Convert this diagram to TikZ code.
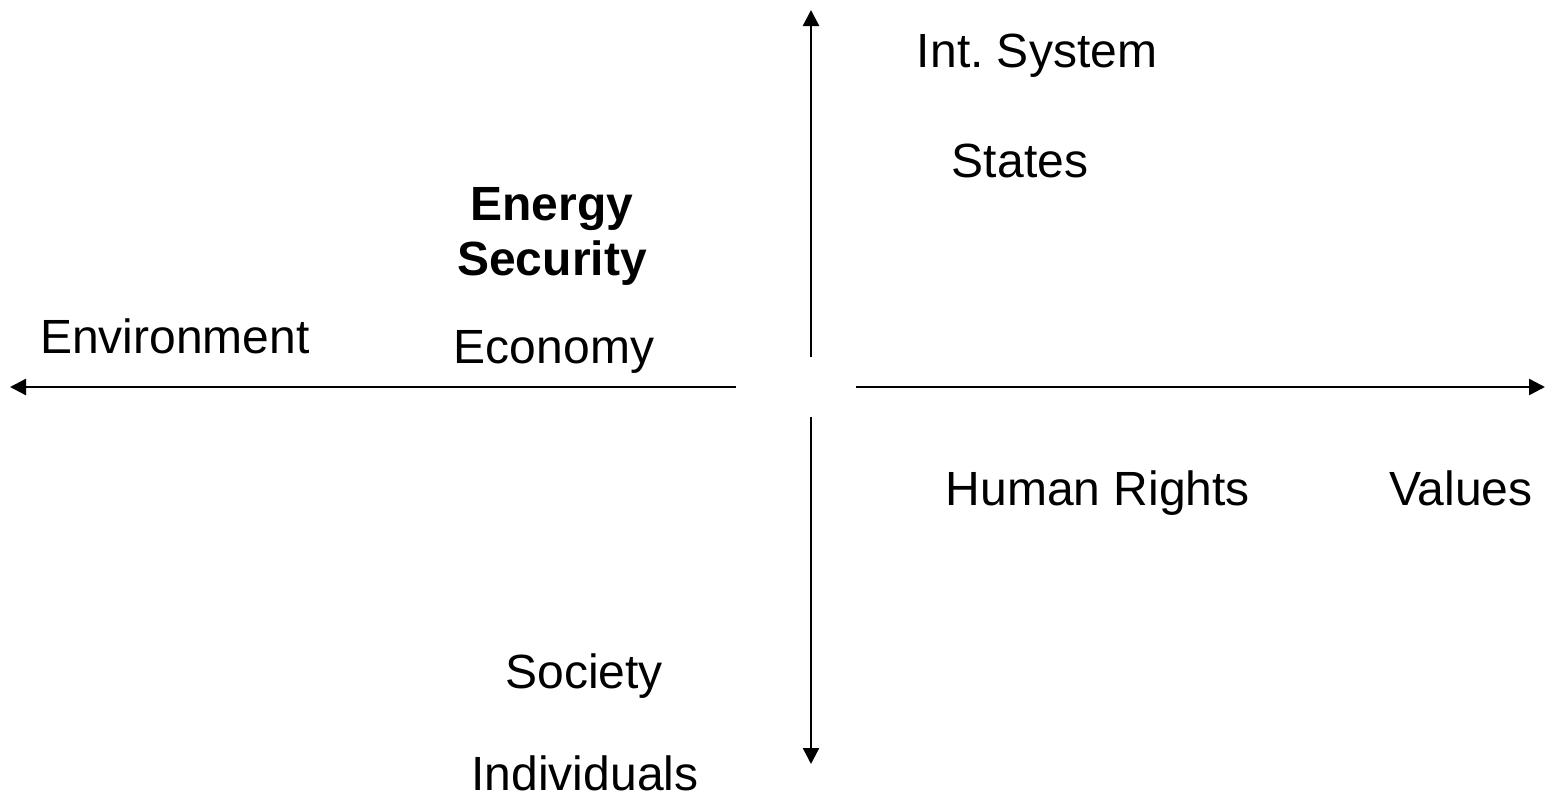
\documentclass[tikz,border=0pt]{standalone}
\usepackage{fontspec}
\setmainfont{Liberation Sans}
\usetikzlibrary{arrows.meta}
\begin{document}
\begin{tikzpicture}[x=1pt,y=-1pt,
  lbl/.style={inner sep=0pt,outer sep=0pt,anchor=base,font=\fontsize{48}{55}\selectfont},
  axis/.style={line width=2.4pt,-{Triangle[length=16pt,width=16pt]}}]
\useasboundingbox (0,0) rectangle (1545,795);
% axis end points
\coordinate (vt0) at (811,357);
\coordinate (vt1) at (811,10);
\coordinate (vb0) at (811,417);
\coordinate (vb1) at (811,764);
\coordinate (hl0) at (736,387);
\coordinate (hl1) at (10,387);
\coordinate (hr0) at (856,387);
\coordinate (hr1) at (1545,387);
\draw[axis] (vt0) -- (vt1);
\draw[axis] (vb0) -- (vb1);
\draw[axis] (hl0) -- (hl1);
\draw[axis] (hr0) -- (hr1);
% labels
\node[lbl] (int) at (1037,67) {Int.\ System};
\node[lbl] (states) at (1020,177) {States};
\node[lbl,align=center,font=\fontsize{48}{55}\selectfont\bfseries] (es) at (552,275) {Energy\\Security};
\node[lbl] (env) at (175,353) {Environment};
\node[lbl] (eco) at (554,363) {Economy};
\node[lbl] (hr) at (1098,505) {Human Rights};
\node[lbl] (val) at (1461,505) {Values};
\node[lbl] (soc) at (584,688) {Society};
\node[lbl] (ind) at (585,790) {Individuals};
\end{tikzpicture}
\end{document}
